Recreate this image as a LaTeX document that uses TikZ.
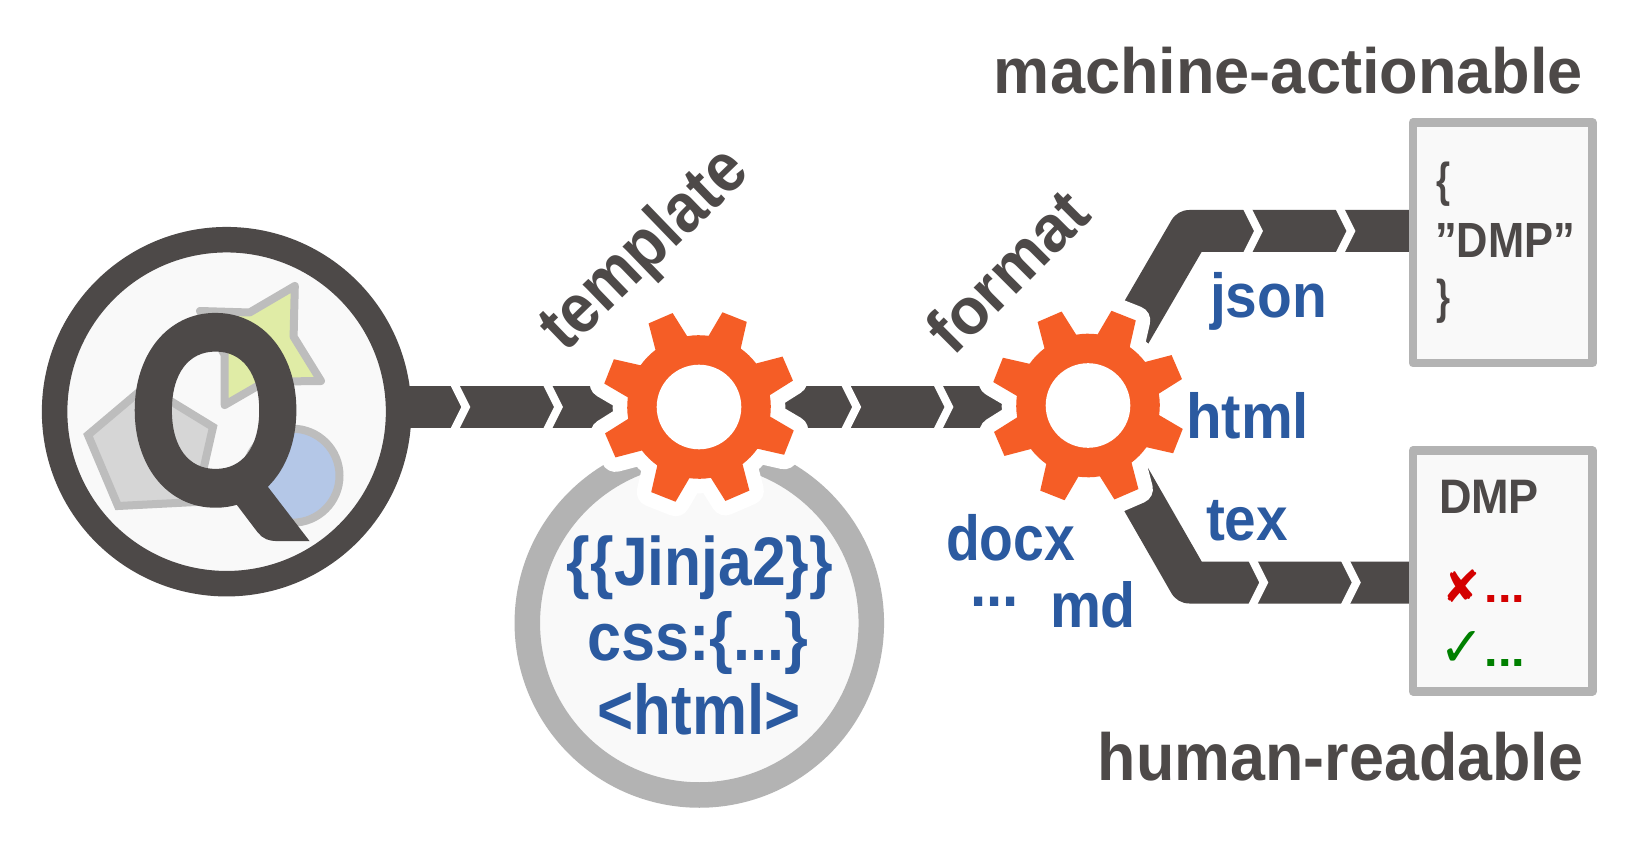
\documentclass[tikz,border=0pt]{standalone}
\usepackage{fontspec}
\setmainfont{Liberation Sans}
\newfontfamily\symfont{DejaVu Sans}
\newfontfamily\qfont{Lato}[BoldFeatures={FakeBold=4}]
\definecolor{dark}{HTML}{4D4948}
\definecolor{inkblue}{HTML}{2B5AA0}
\definecolor{gearorange}{HTML}{F55D26}
\definecolor{ringgray}{HTML}{B3B3B3}
\definecolor{paper}{HTML}{F9F9F9}
\definecolor{shapeline}{HTML}{BDBDBD}
\definecolor{penta}{HTML}{D6D6D6}
\definecolor{starfill}{HTML}{E0ECA6}
\definecolor{discfill}{HTML}{B4C7E7}
\definecolor{crossred}{HTML}{D40000}
\definecolor{checkgreen}{HTML}{008000}
\tikzset{
  txt/.style={inner sep=0pt,outer sep=0pt,font=\bfseries},
  darktxt/.style={txt,text=dark},
  bluetxt/.style={txt,text=inkblue},
  band/.style={draw=dark,line width=21pt,line join=round},
  chev/.style={draw=white,line width=4pt,line join=miter},
  ringnode/.style={circle,inner sep=0pt,outer sep=0pt,minimum size=172pt,fill=paper},
  docbox/.style={rectangle,inner sep=0pt,outer sep=0pt,minimum width=89.75pt,minimum height=120.25pt,draw=ringgray,fill=paper,line width=4.35pt,line join=round},
  minishape/.style={draw=shapeline,line width=4pt},
}
% name, x1, y1, x2, y2, style, text : text fitted into a box given in pixels
\newcommand\tb[7]{%
  \pgfmathsetmacro\myW{(#4-#2)*0.5}%
  \pgfmathsetmacro\myH{(#5-#3)*0.5}%
  \node[#6] (#1) at ({(#2+#4)/2},{(#3+#5)/2}) {\resizebox*{\myW pt}{\myH pt}{#7}};%
}
\newcommand\gearoutline[2]{%
  \begin{scope}[shift={(#2)},x=0.5pt,y=0.5pt]
    \path[#1] (9.5:71.8)
      \foreach \k [evaluate=\k as \t using 23.4+45*\k] in {0,...,7} {
        -- (\t-7.7:97.6) -- (\t+7.7:97.6) -- (\t+13.9:71.8)
        arc[start angle=\t+13.9,end angle=\t+31.1,radius=71.8]
      } -- cycle;
  \end{scope}%
}
\newcommand\chevron[2]{\draw[chev] (#1-12,#2-24) -- (#1,#2) -- (#1-12,#2+24);}
\begin{document}
\begin{tikzpicture}[x=0.5pt,y=-0.5pt]
\useasboundingbox (0,0) rectangle (1639,850);
\fill[white] (0,0) rectangle (1639,850);

\coordinate (gear1) at (699,407);
\coordinate (gear2) at (1088,405.5);
\coordinate (bendT) at (1189.5,231);
\coordinate (bendB) at (1189.5,582.5);
\node[docbox,draw=none,fill=none] (jsonanchor) at (1502.75,242.85) {};
\node[docbox,draw=none,fill=none] (texanchor) at (1502.75,571) {};
\node[ringnode,fill=none] (qanchor) at (226.6,411.7) {};

% connectors
\draw[band] (qanchor.center |- gear1) -- (gear1);
\draw[band] (gear1) -- (gear2 |- gear1);
\draw[band] (gear2) -- (bendT) -- (bendT -| jsonanchor.center);
\draw[band] (gear2) -- (bendB) -- (bendB -| texanchor.center);

\chevron{465.8}{407}
\chevron{558.5}{407}
\chevron{856.7}{407}
\chevron{949}{407}
\chevron{1258.5}{231}
\chevron{1351}{231}
\chevron{1263.8}{582.5}
\chevron{1356.3}{582.5}

% query circle
\node[ringnode,draw=dark,line width=12.75pt] (qring) at (226.6,411.7) {};
\draw[minishape,fill=penta] (88,435) -- (146,386) -- (213,427) -- (196,502) -- (118,506) -- cycle;
\draw[minishape,fill=starfill,line join=round] (294.8,286) -- (293.6,336.7) -- (321,381) -- (265,381.7) -- (224.7,405) -- (224.7,355) -- (200,311) -- (249.6,312.5) -- cycle;
\draw[minishape,fill=discfill] (292.5,475.7) circle[radius=47];
\tb{qletter}{131}{318}{300}{536}{txt,text=dark,font=\qfont\bfseries}{Q}

% template ring
\node[ringnode,draw=ringgray,line width=12.75pt] (tplring) at (699.3,623) {};

% gears
\gearoutline{fill=white,draw=white,line width=14.5pt,line join=round}{gear1}
\gearoutline{fill=white,draw=white,line width=14.5pt,line join=round}{gear2}
\gearoutline{fill=gearorange}{gear1}
\gearoutline{fill=gearorange}{gear2}
\fill[white] (gear1) circle[radius=42.3];
\fill[white] (gear2) circle[radius=42.3];

% documents
\node[docbox] (jsonbox) at (1502.75,242.85) {};
\node[docbox] (texbox) at (1502.75,571) {};

% titles
\tb{machine}{994}{47}{1583}{94}{darktxt}{machine-actionable}
\tb{human}{1098}{732}{1583}{781}{darktxt}{human-readable}
\node[darktxt,rotate=44] (tpl) at (646,251) {\resizebox*{129pt}{32.5pt}{template}};
\node[darktxt,rotate=45] (fmt) at (1007,271) {\resizebox*{99.5pt}{24pt}{format}};

% format labels
\tb{json}{1210}{272}{1327}{330}{bluetxt}{json}
\tb{html}{1186}{392.7}{1309}{439.3}{bluetxt}{html}
\tb{tex}{1206}{500}{1288}{540.7}{bluetxt}{tex}
\tb{docx}{946}{514}{1075}{560.7}{bluetxt}{docx}
\tb{dots}{970.4}{597.3}{1019}{606.7}{bluetxt}{...}
\tb{md}{1050}{581.7}{1136}{628.3}{bluetxt}{md}

% template text
\tb{jinja}{567}{536}{833}{600}{bluetxt}{\{\{Jinja2\}\}}
\tb{css}{587.5}{612}{808.5}{675}{bluetxt}{css:\{...\}}
\tb{htmltag}{597.5}{683.3}{800.5}{735}{bluetxt}{<html>}

% document text
\tb{bopen}{1436}{162.3}{1450}{206.7}{darktxt}{\{}
\tb{dmpq}{1435}{223.3}{1575}{257.3}{darktxt}{"DMP"}
\tb{bclose}{1436}{279}{1450}{323.3}{darktxt}{\}}
\tb{dmp}{1439}{480}{1539}{513.3}{darktxt}{DMP}
\tb{cross}{1442.8}{570}{1480.8}{602.7}{txt,text=crossred,font=\symfont}{✘}
\tb{check}{1439}{631.7}{1484}{666.7}{txt,text=checkgreen,font=\symfont}{✓}
\tb{rdots}{1484.8}{595.7}{1525.4}{602.7}{txt,text=crossred}{...}
\tb{gdots}{1484.8}{659}{1525.4}{666}{txt,text=checkgreen}{...}
\end{tikzpicture}
\end{document}
